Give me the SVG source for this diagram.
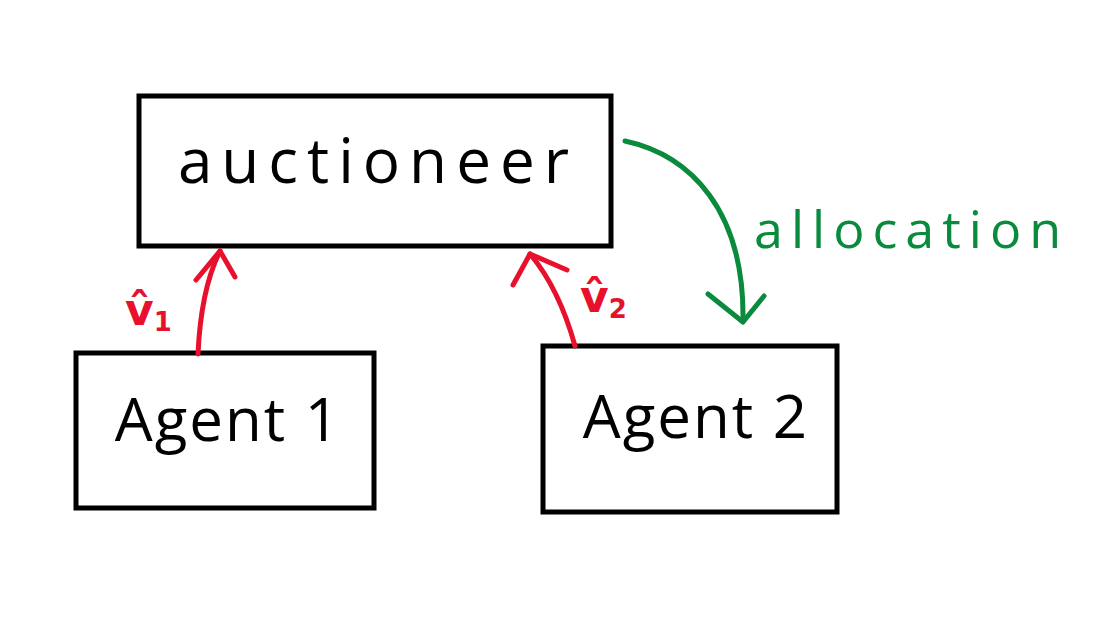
<svg xmlns="http://www.w3.org/2000/svg" width="1102" height="644" viewBox="0 0 1102 644">
<style>
.box{fill:none;stroke:#000;stroke-width:5}
.lbl{font-family:"Open Sans","DejaVu Sans",sans-serif;fill:#000}
.red{fill:none;stroke:#e8112d;stroke-width:5;stroke-linecap:round;stroke-linejoin:round}
.grn{fill:none;stroke:#098a3c;stroke-width:5;stroke-linecap:round;stroke-linejoin:round}
.rt{font-family:"DejaVu Sans",sans-serif;fill:#e8112d;font-weight:bold}
.gt{font-family:"Open Sans","DejaVu Sans",sans-serif;fill:#098a3c}
</style>
<rect width="1102" height="644" fill="#fff"/>
<g id="auctioneer">
<rect class="box" x="139" y="96" width="472" height="150"/>
<text class="lbl" x="378" y="183" font-size="62" text-anchor="middle" letter-spacing="9">auctioneer</text>
</g>
<g id="agent1">
<rect class="box" x="76" y="353" width="298" height="155"/>
<text class="lbl" x="228" y="441" font-size="60" text-anchor="middle" letter-spacing="2">Agent 1</text>
</g>
<g id="agent2">
<rect class="box" x="543" y="346" width="294" height="166"/>
<text class="lbl" x="696" y="438" font-size="60" text-anchor="middle" letter-spacing="2">Agent 2</text>
</g>
<g id="connectors">
<path class="red" d="M198,354 C200,310 208,275 220,251"/>
<path class="red" d="M196,280 L220,251 L235,277"/>
<path class="red" d="M575,346 C565,310 552,280 530,254"/>
<path class="red" d="M513,285 L530,254 L567,270"/>
<path class="grn" d="M625,141 C690,155 745,210 743,322"/>
<path class="grn" d="M708,294 L743,322 L764,296"/>
</g>
<g id="labels">
<text class="rt" x="125" y="325" font-size="44">v̂<tspan font-size="26" dy="6">1</tspan></text>
<text class="rt" x="580" y="312" font-size="44">v̂<tspan font-size="26" dy="6">2</tspan></text>
<text class="gt" x="754" y="248" font-size="52" letter-spacing="8">allocation</text>
</g>
</svg>
